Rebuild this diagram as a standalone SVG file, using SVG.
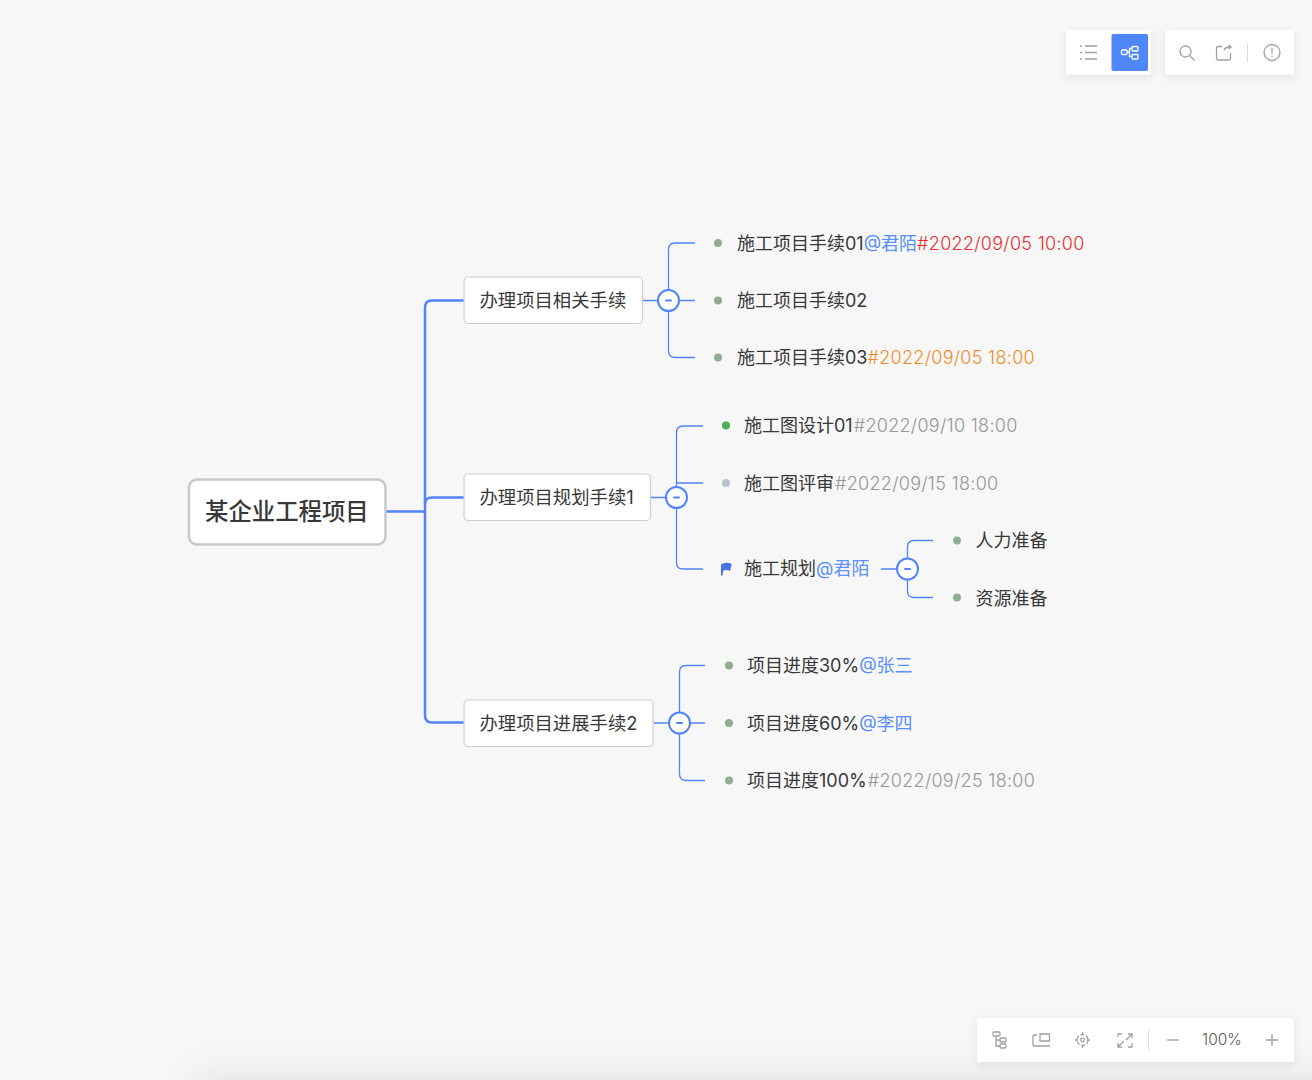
<svg xmlns="http://www.w3.org/2000/svg" width="1312" height="1080" viewBox="0 0 1312 1080">
<style>
text{font-family:"Inter","Noto Sans CJK SC",sans-serif;font-size:18px;font-weight:400;fill:#383838}
.node{font-size:18.350px}
.g{fill:#969696}.b{fill:#5b8ff9}.r{fill:#ea2f2f}.o{fill:#f28c28}
.date{letter-spacing:.3px;font-weight:300}
.root{fill:#fff;stroke:#c8c8c8;stroke-width:2.5}
.main{fill:#fff;stroke:#cfcfcf;stroke-width:1.2}
.thick{fill:none;stroke:#5283fb;stroke-width:2.5}
.thin{fill:none;stroke:#5283fb;stroke-width:1.3}
.tog{fill:#fff;stroke:#5283fb;stroke-width:2}
.minus{stroke:#5283fb;stroke-width:2;stroke-linecap:round}
.dot{fill:#8fae8f}
.panel{fill:#fff;filter:url(#sh)}
.ic{fill:none;stroke:#a0a0a0;stroke-width:1.3}
.sep{stroke:#ddd;stroke-width:1}
</style>
<defs>
<filter id="sh" x="-20%" y="-40%" width="140%" height="190%"><feDropShadow dx="0" dy="2" stdDeviation="4" flood-color="#000" flood-opacity="0.09"/></filter>
<filter id="soft" x="-10%" y="-100%" width="120%" height="300%"><feGaussianBlur stdDeviation="14"/></filter>
</defs>
<rect width="1312" height="1080" fill="#f7f7f7"/>
<!-- soft band along the lower edge of the canvas -->
<rect x="195" y="1068" width="1200" height="40" fill="#e8e8e8" filter="url(#soft)"/>

<g id="connectors">
<path class="thick" d="M386 511.500H425"/>
<path class="thick" d="M464 300.500H432Q425 300.500 425 307.500V715.500Q425 722.500 432 722.500H464"/>
<path class="thick" d="M425 504Q425 497.500 432 497.500H464"/>
<path class="thin" d="M643 300.500H695M695 243H675Q668.500 243 668.500 250V350.500Q668.500 357.500 675 357.500H695"/>
<path class="thin" d="M651 497.500H676.500M703 426H683Q676.500 426 676.500 433V562.500Q676.500 569 683 569H703M676.500 483H703"/>
<path class="thin" d="M654 723H705M705 665.500H686Q679.500 665.500 679.500 672.500V773.500Q679.500 780.500 686 780.500H705"/>
<path class="thin" d="M881 569H898M933 540.500H914Q907.500 540.500 907.500 547V591Q907.500 597.500 914 597.500H933"/>
</g>

<g id="root"><rect class="root" x="189" y="479.500" width="196.500" height="65" rx="8"/><text x="205" y="520" style="font-size:23.400px;font-weight:500">某企业工程项目</text></g>

<g id="n1"><rect class="main" x="464" y="277" width="178.500" height="46.500" rx="4"/><text class="node" x="479.500" y="307">办理项目相关手续</text></g>
<g id="n2"><rect class="main" x="464" y="474" width="186.500" height="46.500" rx="4"/><text class="node" x="479.500" y="504">办理项目规划手续1</text></g>
<g id="n3"><rect class="main" x="464" y="700" width="189" height="46.500" rx="4"/><text class="node" x="479.500" y="729.500">办理项目进展手续2</text></g>

<g id="t1"><circle class="tog" cx="668.500" cy="300.500" r="10.500"/><path class="minus" d="M666 300.500H671"/></g>
<g id="t2"><circle class="tog" cx="676.500" cy="497.500" r="10.500"/><path class="minus" d="M674 497.500H679"/></g>
<g id="t3"><circle class="tog" cx="679.500" cy="723" r="10.500"/><path class="minus" d="M677 723H682"/></g>
<g id="t4"><circle class="tog" cx="907.500" cy="569" r="10.500"/><path class="minus" d="M905 569H910"/></g>

<g id="a1"><circle class="dot" cx="718" cy="243" r="4"/><text x="737" y="249.500">施工项目手续01<tspan class="b">@君陌</tspan><tspan class="r date">#2022/09/05 10:00</tspan></text></g>
<g id="a2"><circle class="dot" cx="718" cy="300.500" r="4"/><text x="737" y="307">施工项目手续02</text></g>
<g id="a3"><circle class="dot" cx="718" cy="357.500" r="4"/><text x="737" y="364">施工项目手续03<tspan class="o date">#2022/09/05 18:00</tspan></text></g>

<g id="b1"><circle cx="726" cy="425.500" r="4" fill="#4caf50"/><text x="744" y="432">施工图设计01<tspan class="g date" dx="1">#2022/09/10 18:00</tspan></text></g>
<g id="b2"><circle cx="726" cy="483" r="4" fill="#b5c4cf"/><text x="744" y="489.500">施工图评审<tspan class="g date" dx="1">#2022/09/15 18:00</tspan></text></g>
<g id="b3"><path d="M721 564.500Q726 561.500 731.700 564L730 571Q726 569 723 571L722.500 575.500H721Z" fill="#4a6fe3"/><text x="744" y="575">施工规划<tspan class="b">@君陌</tspan></text></g>
<g id="c1"><circle class="dot" cx="957" cy="540.500" r="4"/><text x="975.500" y="547">人力准备</text></g>
<g id="c2"><circle class="dot" cx="957" cy="597.500" r="4"/><text x="975.500" y="604.500">资源准备</text></g>

<g id="d1"><circle class="dot" cx="729" cy="665.500" r="4"/><text x="747" y="672">项目进度30%<tspan class="b">@张三</tspan></text></g>
<g id="d2"><circle class="dot" cx="729" cy="723" r="4"/><text x="747" y="729.500">项目进度60%<tspan class="b">@李四</tspan></text></g>
<g id="d3"><circle class="dot" cx="729" cy="780.500" r="4"/><text x="747" y="787">项目进度100%<tspan class="g date" dx="1">#2022/09/25 18:00</tspan></text></g>

<g id="view-switch">
<rect class="panel" x="1066" y="30" width="85" height="45" rx="2"/>
<path class="ic" d="M1085 46H1097M1085 52.500H1097M1085 59H1097"/>
<path class="ic" d="M1080 46H1082M1080 52.500H1082M1080 59H1082"/>
<rect x="1111.500" y="34" width="36.500" height="37" rx="2" fill="#4f87fb"/>
<g fill="none" stroke="#fff" stroke-width="1.300"><rect x="1121.500" y="50" width="5.500" height="4.500" rx="1"/><rect x="1132" y="46.500" width="6" height="4.500" rx="1"/><rect x="1132" y="54.500" width="6" height="4.500" rx="1"/><path d="M1127 52H1129.500V48.500H1132M1129.500 52V56.500H1132"/></g>
</g>
<g id="tools-top">
<rect class="panel" x="1165" y="30" width="129" height="45" rx="2"/>
<circle class="ic" cx="1185.500" cy="51.500" r="5.500"/><path class="ic" d="M1189.500 55.500L1194.500 60.500"/>
<path class="ic" d="M1222 46.500H1218Q1216.500 46.500 1216.500 48V58.500Q1216.500 60 1218 60H1229Q1230.500 60 1230.500 58.500V53M1224 50.500Q1224.500 47 1230.500 47M1228.500 45L1231 47L1228.500 49"/>
<path class="sep" d="M1247.500 43V62"/>
<circle class="ic" cx="1272" cy="52.500" r="8"/><path class="ic" d="M1272 48V53.500M1272 55.500V57"/>
</g>
<g id="tools-bottom">
<rect class="panel" x="977" y="1018" width="317" height="44" rx="2"/>
<g class="ic"><rect x="993" y="1032" width="7" height="4" rx="1"/><rect x="1000" y="1038" width="6" height="4" rx="1"/><rect x="1000" y="1044" width="6" height="4" rx="1"/><path d="M996 1036V1046H1000M996 1040H1000"/></g>
<path class="ic" d="M1037 1035H1034Q1033 1035 1033 1036V1045Q1033 1046 1034 1046H1050M1040 1034H1049.500V1041H1040Z"/>
<circle class="ic" cx="1082.500" cy="1040" r="5.500" stroke-dasharray="4 1.800"/><circle class="ic" cx="1082.500" cy="1040" r="1.800"/><path class="ic" d="M1082.500 1032V1035M1082.500 1045V1048M1075 1040H1078M1087 1040H1090"/>
<path class="ic" d="M1118 1037V1034H1122M1128 1034H1132V1038M1132 1043V1047H1128M1122 1047H1118V1043M1126 1040L1132 1034M1124 1041L1118 1047"/>
<path class="sep" d="M1148.500 1029V1051"/>
<path class="ic" d="M1167 1040H1179"/>
<text x="1222" y="1045" text-anchor="middle" style="font-size:15.500px;font-weight:300;fill:#555">100%</text>
<path class="ic" d="M1266 1040H1278M1272 1034V1046"/>
</g>
</svg>
